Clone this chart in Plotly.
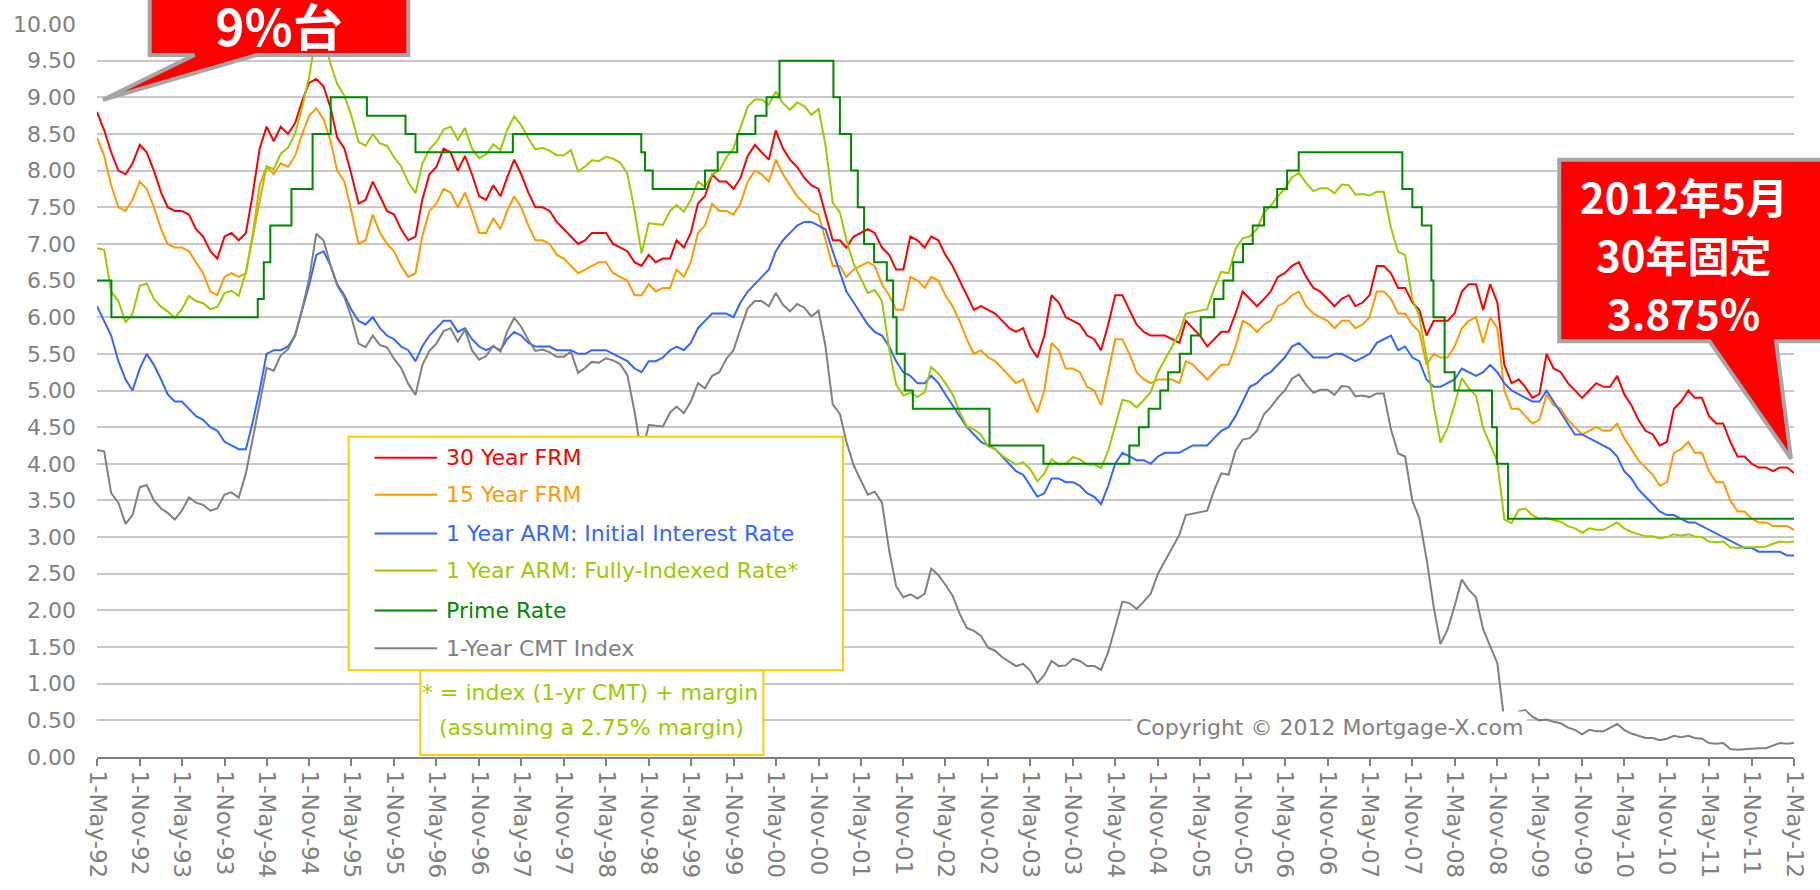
import pandas as pd
import plotly.graph_objects as go

# ---------------- data (monthly readings, May-1992 .. May-2012) ----------------
START_MONTH = "1992-05-01"

FRM30 = [
    8.80, 8.55, 8.25, 8.00, 7.95, 8.10, 8.35, 8.25,
    8.00, 7.70, 7.50, 7.45, 7.45, 7.40, 7.20, 7.10, 6.90, 6.80, 7.10, 7.15,
    7.05, 7.15, 7.65, 8.30, 8.60, 8.40, 8.60, 8.50, 8.65, 8.95, 9.20, 9.25,
    9.15, 8.85, 8.45, 8.30, 7.95, 7.55, 7.60, 7.85, 7.65, 7.45, 7.40, 7.20,
    7.05, 7.10, 7.60, 7.95, 8.05, 8.30, 8.25, 8.00, 8.20, 7.95, 7.65, 7.60,
    7.80, 7.65, 7.90, 8.15, 7.95, 7.70, 7.50, 7.50, 7.45, 7.30, 7.20, 7.10,
    7.00, 7.05, 7.15, 7.15, 7.15, 7.00, 6.95, 6.90, 6.75, 6.70, 6.85, 6.75,
    6.80, 6.80, 7.05, 6.95, 7.15, 7.55, 7.65, 7.95, 7.85, 7.85, 7.75, 7.90,
    8.20, 8.35, 8.25, 8.15, 8.55, 8.30, 8.15, 8.05, 7.90, 7.80, 7.75, 7.40,
    7.05, 7.05, 6.95, 7.10, 7.15, 7.20, 7.15, 6.95, 6.85, 6.65, 6.65, 7.10,
    7.05, 6.95, 7.10, 7.05, 6.85, 6.70, 6.50, 6.30, 6.10, 6.15, 6.10, 6.05,
    5.95, 5.85, 5.80, 5.85, 5.60, 5.45, 5.75, 6.30, 6.20, 6.00, 5.95, 5.90,
    5.75, 5.70, 5.55, 5.90, 6.30, 6.30, 6.10, 5.90, 5.80, 5.75, 5.75, 5.75,
    5.70, 5.65, 5.95, 5.85, 5.75, 5.60, 5.70, 5.80, 5.80, 6.05, 6.35, 6.25,
    6.15, 6.25, 6.35, 6.55, 6.60, 6.70, 6.75, 6.55, 6.40, 6.35, 6.25, 6.15,
    6.25, 6.30, 6.15, 6.20, 6.30, 6.70, 6.70, 6.60, 6.40, 6.40, 6.20, 6.10,
    5.75, 5.95, 5.95, 5.95, 6.05, 6.35, 6.45, 6.45, 6.10, 6.45, 6.20, 5.35,
    5.10, 5.15, 5.05, 4.90, 4.95, 5.50, 5.30, 5.25, 5.10, 5.00, 4.90, 5.00,
    5.10, 5.05, 5.05, 5.20, 4.95, 4.80, 4.60, 4.45, 4.40, 4.25, 4.30, 4.75,
    4.85, 5.00, 4.90, 4.90, 4.65, 4.55, 4.55, 4.30, 4.10, 4.10, 4.00, 3.95,
    3.95, 3.90, 3.95, 3.95, 3.875,
]

FRM15 = [
    8.45, 8.20, 7.80, 7.50, 7.45, 7.60, 7.85, 7.75,
    7.50, 7.20, 7.00, 6.95, 6.95, 6.90, 6.75, 6.60, 6.35, 6.30, 6.55, 6.60,
    6.55, 6.60, 7.10, 7.80, 8.05, 7.95, 8.10, 8.05, 8.20, 8.50, 8.75, 8.85,
    8.70, 8.40, 8.00, 7.85, 7.45, 7.00, 7.05, 7.40, 7.15, 7.00, 6.90, 6.70,
    6.55, 6.60, 7.10, 7.45, 7.55, 7.75, 7.70, 7.50, 7.70, 7.45, 7.15, 7.15,
    7.35, 7.20, 7.45, 7.65, 7.50, 7.25, 7.05, 7.05, 7.00, 6.85, 6.80, 6.70,
    6.60, 6.65, 6.70, 6.75, 6.75, 6.60, 6.55, 6.50, 6.30, 6.30, 6.45, 6.35,
    6.40, 6.40, 6.65, 6.55, 6.75, 7.15, 7.25, 7.55, 7.45, 7.45, 7.40, 7.55,
    7.85, 8.00, 7.95, 7.85, 8.15, 7.95, 7.80, 7.65, 7.55, 7.45, 7.40, 7.05,
    6.70, 6.70, 6.55, 6.65, 6.70, 6.75, 6.70, 6.45, 6.30, 6.10, 6.10, 6.55,
    6.50, 6.40, 6.55, 6.50, 6.30, 6.15, 5.95, 5.70, 5.50, 5.55, 5.45, 5.40,
    5.30, 5.20, 5.10, 5.15, 4.90, 4.70, 5.00, 5.65, 5.55, 5.30, 5.30, 5.25,
    5.05, 5.00, 4.80, 5.25, 5.70, 5.70, 5.50, 5.25, 5.15, 5.10, 5.15, 5.15,
    5.15, 5.10, 5.40, 5.35, 5.25, 5.15, 5.25, 5.35, 5.35, 5.60, 5.95, 5.90,
    5.80, 5.90, 5.95, 6.15, 6.20, 6.30, 6.35, 6.15, 6.05, 6.00, 5.95, 5.85,
    5.95, 5.95, 5.85, 5.90, 6.00, 6.35, 6.35, 6.25, 6.05, 6.05, 5.90, 5.80,
    5.35, 5.50, 5.45, 5.45, 5.60, 5.85, 5.95, 6.00, 5.65, 6.00, 5.85, 5.00,
    4.75, 4.75, 4.65, 4.55, 4.60, 4.95, 4.80, 4.75, 4.60, 4.50, 4.40, 4.45,
    4.50, 4.45, 4.45, 4.55, 4.35, 4.20, 4.05, 3.95, 3.85, 3.70, 3.75, 4.15,
    4.20, 4.30, 4.15, 4.15, 3.90, 3.75, 3.75, 3.50, 3.35, 3.35, 3.25, 3.20,
    3.20, 3.15, 3.15, 3.15, 3.10,
]

ARM_INITIAL = [
    6.15, 5.95, 5.75, 5.40, 5.15, 5.00, 5.30, 5.50,
    5.35, 5.15, 4.95, 4.85, 4.85, 4.75, 4.65, 4.60, 4.50, 4.45, 4.30, 4.25,
    4.20, 4.20, 4.55, 5.00, 5.50, 5.55, 5.55, 5.60, 5.75, 6.10, 6.45, 6.85,
    6.90, 6.70, 6.45, 6.30, 6.10, 5.95, 5.90, 6.00, 5.85, 5.75, 5.70, 5.60,
    5.55, 5.40, 5.60, 5.75, 5.85, 5.95, 5.95, 5.80, 5.85, 5.70, 5.60, 5.55,
    5.60, 5.55, 5.70, 5.80, 5.75, 5.65, 5.60, 5.60, 5.60, 5.55, 5.55, 5.55,
    5.50, 5.50, 5.55, 5.55, 5.55, 5.50, 5.45, 5.40, 5.30, 5.25, 5.40, 5.40,
    5.45, 5.55, 5.60, 5.55, 5.65, 5.85, 5.95, 6.05, 6.05, 6.05, 6.00, 6.20,
    6.35, 6.45, 6.55, 6.65, 6.90, 7.05, 7.15, 7.25, 7.30, 7.30, 7.25, 7.20,
    6.90, 6.60, 6.35, 6.20, 6.05, 5.90, 5.80, 5.75, 5.60, 5.40, 5.25, 5.20,
    5.10, 5.10, 5.20, 5.10, 4.95, 4.80, 4.65, 4.50, 4.40, 4.30, 4.25, 4.20,
    4.10, 4.00, 3.90, 3.85, 3.70, 3.55, 3.60, 3.80, 3.80, 3.75, 3.75, 3.70,
    3.60, 3.55, 3.45, 3.70, 4.00, 4.15, 4.10, 4.05, 4.05, 4.00, 4.10, 4.15,
    4.15, 4.15, 4.20, 4.25, 4.25, 4.25, 4.35, 4.45, 4.50, 4.65, 4.85, 5.05,
    5.10, 5.20, 5.25, 5.35, 5.45, 5.60, 5.65, 5.55, 5.45, 5.45, 5.45, 5.50,
    5.50, 5.45, 5.40, 5.45, 5.50, 5.65, 5.70, 5.75, 5.55, 5.60, 5.45, 5.40,
    5.15, 5.05, 5.05, 5.10, 5.15, 5.30, 5.25, 5.20, 5.25, 5.35, 5.25, 5.10,
    5.00, 4.95, 4.90, 4.85, 4.85, 5.00, 4.85, 4.70, 4.55, 4.40, 4.40, 4.35,
    4.30, 4.25, 4.20, 4.10, 3.90, 3.80, 3.65, 3.55, 3.45, 3.35, 3.30, 3.30,
    3.25, 3.20, 3.20, 3.15, 3.10, 3.05, 3.00, 2.95, 2.90, 2.85, 2.85, 2.80,
    2.80, 2.80, 2.80, 2.75, 2.75,
]

ARM_FULLY_INDEXED = [
    6.94, 6.92, 6.35, 6.22, 5.93, 6.05, 6.43, 6.46,
    6.25, 6.14, 6.08, 5.99, 6.11, 6.29, 6.22, 6.19, 6.11, 6.14, 6.33, 6.36,
    6.29, 6.62, 7.07, 7.57, 8.06, 8.02, 8.23, 8.31, 8.51, 8.86, 9.29, 9.89,
    9.80, 9.45, 9.18, 9.02, 8.75, 8.39, 8.34, 8.50, 8.37, 8.34, 8.18, 8.06,
    7.84, 7.69, 8.09, 8.29, 8.39, 8.56, 8.60, 8.42, 8.58, 8.30, 8.17, 8.22,
    8.36, 8.28, 8.55, 8.74, 8.62, 8.44, 8.29, 8.31, 8.27, 8.21, 8.21, 8.28,
    7.99, 8.06, 8.14, 8.13, 8.19, 8.16, 8.11, 7.96, 7.46, 6.87, 7.28, 7.27,
    7.26, 7.45, 7.53, 7.44, 7.60, 7.85, 7.78, 7.95, 8.00, 8.18, 8.30, 8.59,
    8.87, 8.97, 8.97, 8.90, 9.08, 8.92, 8.83, 8.93, 8.88, 8.76, 8.84, 8.35,
    7.56, 7.43, 7.05, 6.73, 6.53, 6.33, 6.37, 6.22, 5.57, 5.08, 4.93, 4.97,
    4.91, 4.98, 5.32, 5.23, 5.10, 4.95, 4.71, 4.51, 4.47, 4.40, 4.24, 4.20,
    4.11, 4.05, 3.99, 4.02, 3.93, 3.76, 3.87, 4.06, 3.99, 4.00, 4.09, 4.06,
    3.99, 3.99, 3.94, 4.18, 4.53, 4.87, 4.85, 4.77, 4.87, 4.98, 5.25, 5.42,
    5.61, 5.78, 6.05, 6.07, 6.08, 6.11, 6.39, 6.62, 6.60, 6.93, 7.08, 7.10,
    7.20, 7.43, 7.52, 7.65, 7.75, 7.91, 7.97, 7.83, 7.72, 7.76, 7.76, 7.69,
    7.81, 7.80, 7.67, 7.68, 7.66, 7.71, 7.71, 7.22, 6.89, 6.85, 6.25, 6.01,
    5.46, 4.80, 4.29, 4.49, 4.81, 5.17, 5.03, 4.93, 4.49, 4.26, 4.03, 3.24,
    3.19, 3.37, 3.39, 3.30, 3.25, 3.26, 3.23, 3.21, 3.15, 3.12, 3.06, 3.12,
    3.10, 3.10, 3.15, 3.20, 3.12, 3.07, 3.04, 3.01, 3.01, 2.98, 3.00, 3.04,
    3.02, 3.04, 3.01, 3.00, 2.94, 2.93, 2.94, 2.86, 2.85, 2.86, 2.86, 2.87,
    2.87, 2.91, 2.94, 2.93, 2.94,
]

CMT_1Y = [
    4.19, 4.17, 3.60, 3.47, 3.18, 3.30, 3.68, 3.71,
    3.50, 3.39, 3.33, 3.24, 3.36, 3.54, 3.47, 3.44, 3.36, 3.39, 3.58, 3.61,
    3.54, 3.87, 4.32, 4.82, 5.31, 5.27, 5.48, 5.56, 5.76, 6.11, 6.54, 7.14,
    7.05, 6.70, 6.43, 6.27, 6.00, 5.64, 5.59, 5.75, 5.62, 5.59, 5.43, 5.31,
    5.09, 4.94, 5.34, 5.54, 5.64, 5.81, 5.85, 5.67, 5.83, 5.55, 5.42, 5.47,
    5.61, 5.53, 5.80, 5.99, 5.87, 5.69, 5.54, 5.56, 5.52, 5.46, 5.46, 5.53,
    5.24, 5.31, 5.39, 5.38, 5.44, 5.41, 5.36, 5.21, 4.71, 4.12, 4.53, 4.52,
    4.51, 4.70, 4.78, 4.69, 4.85, 5.10, 5.03, 5.20, 5.25, 5.43, 5.55, 5.84,
    6.12, 6.22, 6.22, 6.15, 6.33, 6.17, 6.08, 6.18, 6.13, 6.01, 6.09, 5.60,
    4.81, 4.68, 4.30, 3.98, 3.78, 3.58, 3.62, 3.47, 2.82, 2.33, 2.18, 2.22,
    2.16, 2.23, 2.57, 2.48, 2.35, 2.20, 1.96, 1.76, 1.72, 1.65, 1.49, 1.45,
    1.36, 1.30, 1.24, 1.27, 1.18, 1.01, 1.12, 1.31, 1.24, 1.25, 1.34, 1.31,
    1.24, 1.24, 1.19, 1.43, 1.78, 2.12, 2.10, 2.02, 2.12, 2.23, 2.50, 2.67,
    2.86, 3.03, 3.30, 3.32, 3.33, 3.36, 3.64, 3.87, 3.85, 4.18, 4.33, 4.35,
    4.45, 4.68, 4.77, 4.90, 5.00, 5.16, 5.22, 5.08, 4.97, 5.01, 5.01, 4.94,
    5.06, 5.05, 4.92, 4.93, 4.91, 4.96, 4.96, 4.47, 4.14, 4.10, 3.50, 3.26,
    2.71, 2.05, 1.54, 1.74, 2.06, 2.42, 2.28, 2.18, 1.74, 1.51, 1.28, 0.49,
    0.44, 0.62, 0.64, 0.55, 0.50, 0.51, 0.48, 0.46, 0.40, 0.37, 0.31, 0.37,
    0.35, 0.35, 0.40, 0.45, 0.37, 0.32, 0.29, 0.26, 0.26, 0.23, 0.25, 0.29,
    0.27, 0.29, 0.26, 0.25, 0.19, 0.18, 0.19, 0.11, 0.10, 0.11, 0.11, 0.12,
    0.12, 0.16, 0.19, 0.18, 0.19,
]

PRIME_DATES = [
    "1992-05-01", "1992-07-02", "1994-03-24", "1994-04-19", "1994-05-17",
    "1994-08-16", "1994-11-15", "1995-02-01", "1995-07-07", "1995-12-20",
    "1996-02-01", "1997-03-26", "1998-09-30", "1998-10-16", "1998-11-18",
    "1999-07-01", "1999-08-25", "1999-11-17", "2000-02-03", "2000-03-22",
    "2000-05-17", "2001-01-04", "2001-02-01", "2001-03-21", "2001-04-19",
    "2001-05-16", "2001-06-28", "2001-08-22", "2001-09-18", "2001-10-03",
    "2001-11-07", "2001-12-12", "2002-11-07", "2003-06-27", "2004-07-01",
    "2004-08-11", "2004-09-22", "2004-11-11", "2004-12-15", "2005-02-03",
    "2005-03-23", "2005-05-04", "2005-07-01", "2005-08-10", "2005-09-21",
    "2005-11-02", "2005-12-14", "2006-02-01", "2006-03-29", "2006-05-11",
    "2006-06-30", "2007-09-19", "2007-11-01", "2007-12-12", "2008-01-22",
    "2008-01-31", "2008-03-19", "2008-05-01", "2008-10-09", "2008-10-30",
    "2008-12-17", "2012-05-01",
]
PRIME_RATE = [
    6.50, 6.00, 6.25, 6.75, 7.25,
    7.75, 8.50, 9.00, 8.75, 8.50,
    8.25, 8.50, 8.25, 8.00, 7.75,
    8.00, 8.25, 8.50, 8.75, 9.00,
    9.50, 9.00, 8.50, 8.00, 7.50,
    7.00, 6.75, 6.50, 6.00, 5.50,
    5.00, 4.75, 4.25, 4.00, 4.25,
    4.50, 4.75, 5.00, 5.25, 5.50,
    5.75, 6.00, 6.25, 6.50, 6.75,
    7.00, 7.25, 7.50, 7.75, 8.00,
    8.25, 7.75, 7.50, 7.25, 6.50,
    6.00, 5.25, 5.00, 4.50, 4.00,
    3.25, 3.25,
]

TICK_DATES = [f"{1992 + i // 2}-{'05' if i % 2 == 0 else '11'}-01" for i in range(41)]
TICK_LABELS = [
    "1-May-92", "1-Nov-92", "1-May-93", "1-Nov-93", "1-May-94", "1-Nov-94",
    "1-May-95", "1-Nov-95", "1-May-96", "1-Nov-96", "1-May-97", "1-Nov-97",
    "1-May-98", "1-Nov-98", "1-May-99", "1-Nov-99", "1-May-00", "1-Nov-00",
    "1-May-01", "1-Nov-01", "1-May-02", "1-Nov-02", "1-May-03", "1-Nov-03",
    "1-May-04", "1-Nov-04", "1-May-05", "1-Nov-05", "1-May-06", "1-Nov-06",
    "1-May-07", "1-Nov-07", "1-May-08", "1-Nov-08", "1-May-09", "1-Nov-09",
    "1-May-10", "1-Nov-10", "1-May-11", "1-Nov-11", "1-May-12",
]
Y_TICKS = [i * 0.5 for i in range(21)]
Y_TICK_LABELS = [f"{v:.2f}" for v in Y_TICKS]

SERIES_NAMES = ["30 Year FRM", "15 Year FRM", "1 Year ARM: Initial Interest Rate",
                "1 Year ARM: Fully-Indexed Rate*", "Prime Rate", "1-Year CMT Index"]
SERIES_COLORS = ["#FF0000", "#FF9900", "#3366FF", "#99CC00", "#008800", "#808080"]

CALLOUT_LEFT = "9%台"
CALLOUT_RIGHT = ["2012年5月", "30年固定", "3.875%"]

# ---------------- layout geometry (pixels of the 1820x890 canvas) ----------------
W, H = 1820, 890
PL, PR, PT, PB = 97, 1803, 22, 757


def px(x):
    return (x - PL) / (PR - PL)


def py(y):
    return (PB - y) / (PB - PT)


months = pd.date_range(START_MONTH, periods=len(FRM30), freq="MS")

fig = go.Figure()
monthly = [FRM30, FRM15, ARM_INITIAL, ARM_FULLY_INDEXED]
for name, color, vals in zip(SERIES_NAMES[:4], SERIES_COLORS[:4], monthly):
    fig.add_trace(go.Scatter(x=months, y=vals, mode="lines", name=name,
                             line=dict(color=color, width=2)))
fig.add_trace(go.Scatter(x=pd.to_datetime(PRIME_DATES), y=PRIME_RATE, mode="lines",
                         name=SERIES_NAMES[4], line=dict(color=SERIES_COLORS[4], width=2, shape="hv")))
fig.add_trace(go.Scatter(x=months, y=CMT_1Y, mode="lines", name=SERIES_NAMES[5],
                         line=dict(color=SERIES_COLORS[5], width=2)))

shapes = []
annotations = []

# legend sub-box and legend box
shapes.append(dict(type="rect", xref="paper", yref="paper", layer="above",
                   x0=px(422), x1=px(767), y0=py(755), y1=py(670),
                   line=dict(color="#FFCC00", width=2), fillcolor="white"))
shapes.append(dict(type="rect", xref="paper", yref="paper", layer="above",
                   x0=px(350), x1=px(847), y0=py(670), y1=py(436),
                   line=dict(color="#FFCC00", width=2), fillcolor="white"))
rows = [457, 494, 533, 570, 610, 648]
for name, color, ry in zip(SERIES_NAMES, SERIES_COLORS, rows):
    shapes.append(dict(type="line", xref="paper", yref="paper", layer="above",
                       x0=px(376), x1=px(439), y0=py(ry), y1=py(ry),
                       line=dict(color=color, width=2)))
    annotations.append(dict(xref="paper", yref="paper", x=px(446), y=py(ry),
                            xanchor="left", yanchor="middle", showarrow=False, text=name,
                            font=dict(family="DejaVu Sans", size=22, color=color)))
annotations.append(dict(xref="paper", yref="paper", x=px(593), y=py(692),
                        xanchor="center", yanchor="middle", showarrow=False,
                        text="* = index (1-yr CMT) + margin",
                        font=dict(family="DejaVu Sans", size=22, color="#99CC00")))
annotations.append(dict(xref="paper", yref="paper", x=px(594), y=py(727),
                        xanchor="center", yanchor="middle", showarrow=False,
                        text="(assuming a 2.75% margin)",
                        font=dict(family="DejaVu Sans", size=22, color="#99CC00")))

# copyright
annotations.append(dict(xref="paper", yref="paper", x=px(1336), y=py(727),
                        xanchor="center", yanchor="middle", showarrow=False,
                        text="Copyright © 2012 Mortgage-X.com", bgcolor="white", borderpad=3,
                        font=dict(family="DejaVu Sans", size=22, color="#808080")))


def callout_path(points):
    parts = [f"{'M' if i == 0 else 'L'} {px(x):.5f},{py(y):.5f}" for i, (x, y) in enumerate(points)]
    return " ".join(parts) + " Z"


# callout 1 (9%台)
shapes.append(dict(type="path", xref="paper", yref="paper", layer="above",
                   path=callout_path([(150, -30), (410, -30), (410, 53), (258, 53),
                                      (103, 98), (195, 53), (150, 53)]),
                   fillcolor="#FF0000", line=dict(color="#A6A6A6", width=4)))
annotations.append(dict(xref="paper", yref="paper", x=px(280), y=py(22),
                        xanchor="center", yanchor="middle", showarrow=False,
                        text=f"<b>{CALLOUT_LEFT}</b>",
                        font=dict(family="Noto Sans CJK JP", size=50, color="white")))

# callout 2 (2012年5月)
shapes.append(dict(type="path", xref="paper", yref="paper", layer="above",
                   path=callout_path([(1567, 158), (1840, 158), (1840, 340), (1785, 340),
                                      (1800, 458), (1718, 340), (1567, 340)]),
                   fillcolor="#FF0000", line=dict(color="#A6A6A6", width=4)))
for line_text, ly in zip(CALLOUT_RIGHT, [194, 252, 310]):
    annotations.append(dict(xref="paper", yref="paper", x=px(1692), y=py(ly),
                            xanchor="center", yanchor="middle", showarrow=False,
                            text=f"<b>{line_text}</b>",
                            font=dict(family="Noto Sans CJK JP", size=42, color="white")))

fig.update_layout(
    width=W, height=H,
    margin=dict(l=PL, r=W - PR, t=PT, b=H - PB, pad=0),
    paper_bgcolor="white", plot_bgcolor="white",
    showlegend=False,
    shapes=shapes, annotations=annotations,
    xaxis=dict(type="date", range=[TICK_DATES[0], TICK_DATES[-1]],
               tickmode="array", tickvals=TICK_DATES, ticktext=TICK_LABELS,
               tickangle=90, ticks="outside", ticklen=7, tickwidth=2, tickcolor="#808080",
               showline=True, linecolor="#808080", linewidth=2,
               showgrid=False, zeroline=False,
               tickfont=dict(family="DejaVu Sans", size=23, color="#808080")),
    yaxis=dict(range=[0, 10], tickmode="array", tickvals=Y_TICKS, ticktext=Y_TICK_LABELS,
               showgrid=True, gridcolor="#C8C8C8", gridwidth=2, zeroline=False,
               showline=False, ticks="", ticklabelstandoff=20,
               tickfont=dict(family="DejaVu Sans", size=22, color="#808080")),
)

fig.write_html("out.html", config={"displayModeBar": False},
               post_script="document.body.style.margin='0';document.body.style.overflow='hidden';")
